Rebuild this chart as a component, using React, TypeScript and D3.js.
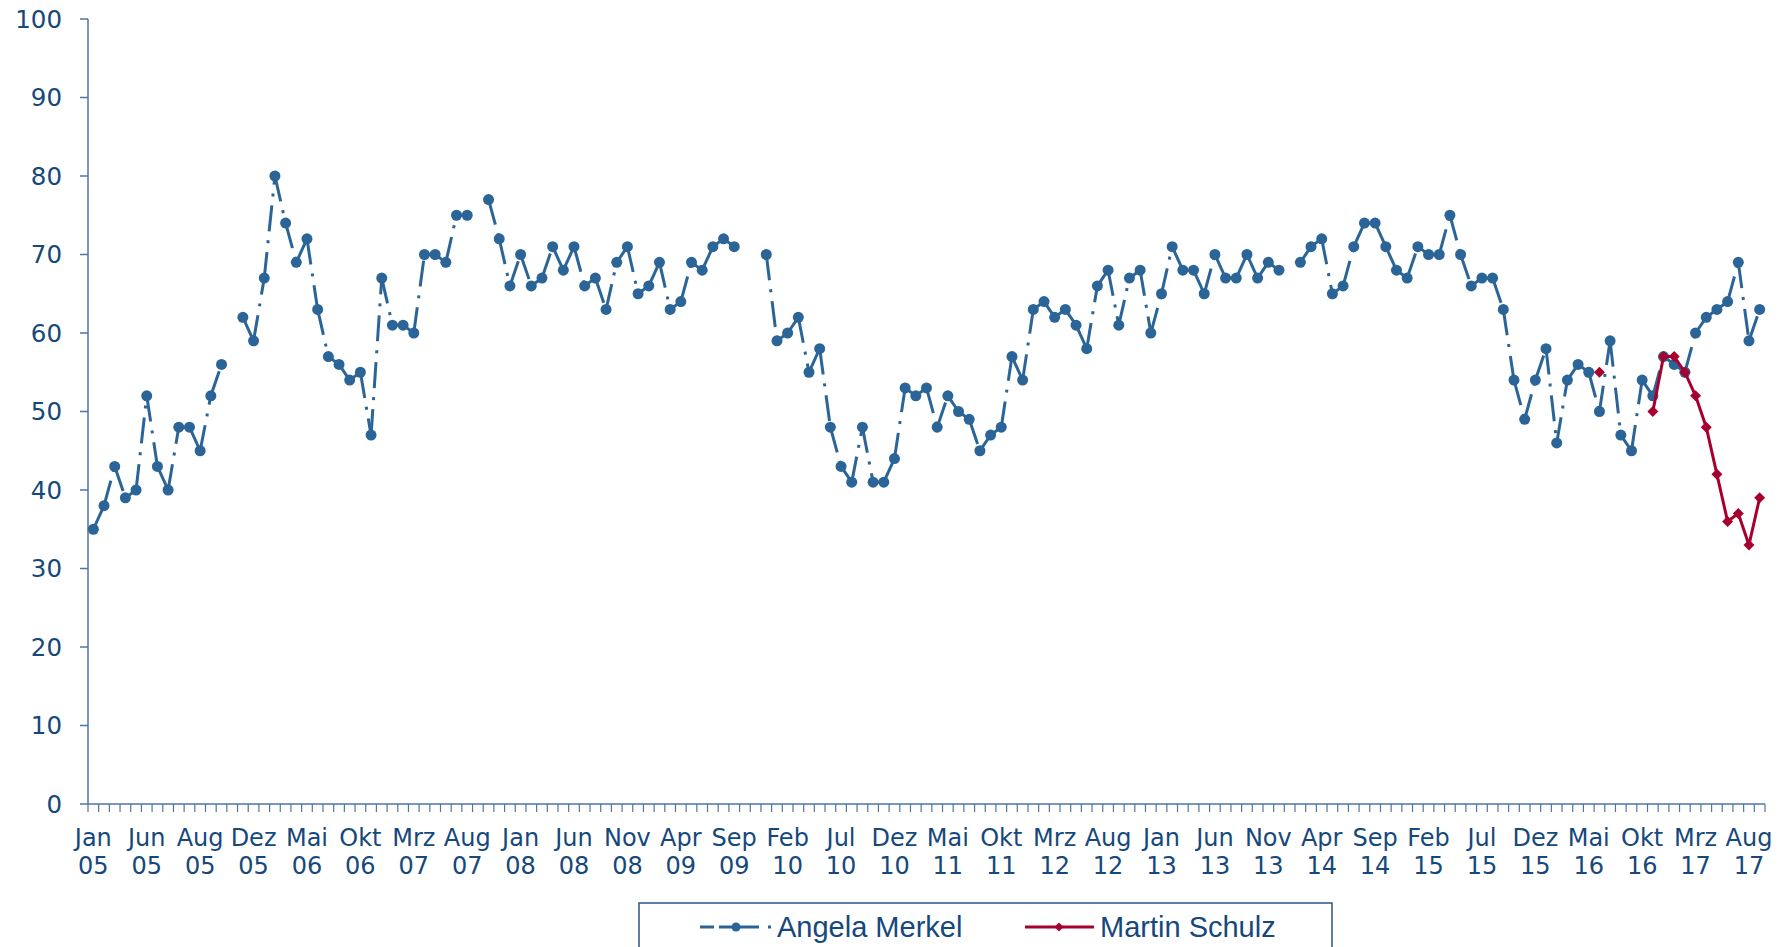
import React from 'react';
import * as d3 from 'd3';

const tickLabels = [
  'Jan 05', 'Jun 05', 'Aug 05', 'Dez 05', 'Mai 06', 'Okt 06', 'Mrz 07', 'Aug 07',
  'Jan 08', 'Jun 08', 'Nov 08', 'Apr 09', 'Sep 09', 'Feb 10', 'Jul 10', 'Dez 10',
  'Mai 11', 'Okt 11', 'Mrz 12', 'Aug 12', 'Jan 13', 'Jun 13', 'Nov 13', 'Apr 14',
  'Sep 14', 'Feb 15', 'Jul 15', 'Dez 15', 'Mai 16', 'Okt 16', 'Mrz 17', 'Aug 17',
];
const labelEvery = 5;

const merkel: (number | null)[] = [
  35, 38, 43, 39, 40, 52, 43, 40, 48, 48,
  45, 52, 56, null, 62, 59, 67, 80, 74, 69,
  72, 63, 57, 56, 54, 55, 47, 67, 61, 61,
  60, 70, 70, 69, 75, 75, null, 77, 72, 66,
  70, 66, 67, 71, 68, 71, 66, 67, 63, 69,
  71, 65, 66, 69, 63, 64, 69, 68, 71, 72,
  71, null, null, 70, 59, 60, 62, 55, 58, 48,
  43, 41, 48, 41, 41, 44, 53, 52, 53, 48,
  52, 50, 49, 45, 47, 48, 57, 54, 63, 64,
  62, 63, 61, 58, 66, 68, 61, 67, 68, 60,
  65, 71, 68, 68, 65, 70, 67, 67, 70, 67,
  69, 68, null, 69, 71, 72, 65, 66, 71, 74,
  74, 71, 68, 67, 71, 70, 70, 75, 70, 66,
  67, 67, 63, 54, 49, 54, 58, 46, 54, 56,
  55, 50, 59, 47, 45, 54, 52, 57, 56, 55,
  60, 62, 63, 64, 69, 59, 63,
];

const schulzStartIndex = 141;
const schulzValues: (number | null)[] = [55, null, null, null, null, 50, 57, 57, 55, 52, 48, 42, 36, 37, 33, 39];

const yTicks = [0, 10, 20, 30, 40, 50, 60, 70, 80, 90, 100];

const W = 1785;
const H = 947;
const left = 88;
const right = 1765;
const top = 19;
const bottom = 804;

const BLUE = '#2b6597';
const RED = '#a8002e';
const TEXT = '#15487b';
const AXIS = '#4d76a3';

export default function App() {
  const n = merkel.length;
  const schulz: (number | null)[] = merkel.map((_, i) =>
    i >= schulzStartIndex && i - schulzStartIndex < schulzValues.length ? schulzValues[i - schulzStartIndex] : null
  );
  const idx = d3.range(n);
  const x = d3.scaleBand<number>().domain(idx).range([left, right]).paddingInner(0).paddingOuter(0);
  const bw = x.bandwidth();
  const cx = (i: number) => (x(i) as number) + bw / 2;
  const y = d3.scaleLinear().domain([0, 100]).range([bottom, top]);

  const seg = d3.line<[number, number]>().x((d) => cx(d[0])).y((d) => y(d[1]));

  const merkelSegs: string[] = [];
  for (let i = 0; i < n - 1; i++) {
    const a = merkel[i];
    const b = merkel[i + 1];
    if (a != null && b != null) merkelSegs.push(seg([[i, a], [i + 1, b]]) as string);
  }
  const schulzLine = d3
    .line<number | null>()
    .defined((d) => d != null)
    .x((_, i) => cx(i))
    .y((d) => y(d as number))(schulz) as string;

  const diamond = d3.symbol().type(d3.symbolSquare).size(60)() as string;
  const diamondSmall = d3.symbol().type(d3.symbolSquare).size(40)() as string;

  const boundaries = d3.range(n + 1).map((i) => left + i * bw);
  const labelIdx = tickLabels.map((_, k) => k * labelEvery);

  return (
    <svg
      width={W}
      height={H}
      style={{ position: 'absolute', left: 0, top: 0, background: '#fff' }}
      fontFamily="'DejaVu Sans', Verdana, sans-serif"
    >
      {/* y axis */}
      <line x1={left} x2={left} y1={top} y2={bottom} stroke={AXIS} strokeWidth={1.5} />
      {yTicks.map((t) => (
        <g key={t}>
          <line x1={left - 8} x2={left} y1={y(t)} y2={y(t)} stroke={AXIS} strokeWidth={1.5} />
          <text x={62} y={y(t)} dy="0.36em" textAnchor="end" fontSize={24.5} fill={TEXT}>
            {t}
          </text>
        </g>
      ))}
      {/* x axis */}
      <line x1={left} x2={right} y1={bottom} y2={bottom} stroke={AXIS} strokeWidth={1.5} />
      {boundaries.map((bx, i) => (
        <line key={i} x1={bx} x2={bx} y1={bottom} y2={bottom + 8} stroke={AXIS} strokeWidth={1.2} />
      ))}
      {labelIdx.map((i, k) => {
        const [m, yr] = tickLabels[k].split(' ');
        return (
          <text key={k} x={cx(i)} textAnchor="middle" fontSize={24} fill={TEXT}>
            <tspan x={cx(i)} y={846}>{m}</tspan>
            <tspan x={cx(i)} y={874}>{yr}</tspan>
          </text>
        );
      })}

      {/* Merkel */}
      {merkelSegs.map((d, i) => (
        <path key={i} d={d} fill="none" stroke={BLUE} strokeWidth={3} strokeDasharray="26 9 3 9" />
      ))}
      {merkel.map((v, i) =>
        v == null ? null : <circle key={i} cx={cx(i)} cy={y(v)} r={5.5} fill={BLUE} />
      )}

      {/* Schulz */}
      <path d={schulzLine} fill="none" stroke={RED} strokeWidth={3} strokeLinejoin="round" />
      {schulz.map((v, i) =>
        v == null ? null : (
          <path key={i} d={diamond} transform={`translate(${cx(i)},${y(v)}) rotate(45)`} fill={RED} />
        )
      )}

      {/* Legend */}
      <rect x={639} y={903} width={693} height={80} fill="#fff" stroke="#2a5585" strokeWidth={1.5} />
      <line x1={700} x2={771} y1={927} y2={927} stroke={BLUE} strokeWidth={3} strokeDasharray="14 5 40 9 3 100" />
      <circle cx={736} cy={927} r={4.5} fill={BLUE} />
      <text x={777} y={937} fontFamily="'Liberation Sans', Arial, sans-serif" fontSize={29} fill={TEXT}>
        Angela Merkel
      </text>
      <line x1={1025} x2={1094} y1={927} y2={927} stroke={RED} strokeWidth={3} />
      <path d={diamondSmall} transform="translate(1059,927) rotate(45)" fill={RED} />
      <text x={1100} y={937} fontFamily="'Liberation Sans', Arial, sans-serif" fontSize={29} fill={TEXT}>
        Martin Schulz
      </text>
    </svg>
  );
}
